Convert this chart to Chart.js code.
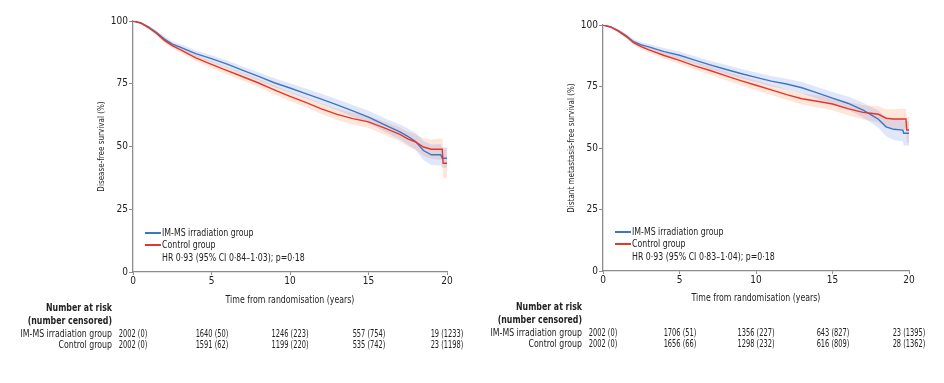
<!DOCTYPE html>
<html>
<head>
<meta charset="utf-8">
<script src="https://cdn.jsdelivr.net/npm/chart.js@4.4.1/dist/chart.umd.min.js"></script>
<style>
  html,body{margin:0;padding:0;background:#fff;}
  body{width:944px;height:383px;position:relative;overflow:hidden;
       font-family:"DejaVu Sans Condensed","Liberation Sans Narrow",sans-serif;color:#222;}
  canvas{position:absolute;top:0;}
  .t{position:absolute;white-space:nowrap;font-size:10px;line-height:12px;}
  .c{transform-origin:50% 50%;transform:translate(-50%,-50%) scaleX(0.87);}
  .r{transform-origin:100% 50%;transform:translate(-100%,-50%) scaleX(0.87);}
  .l{transform-origin:0 50%;transform:translate(0,-50%) scaleX(0.87);}
  .n{font-size:10px;transform-origin:50% 50%;transform:translate(-50%,-50%) scaleX(0.74);}
  .b{font-weight:bold;}
  .sw{position:absolute;height:2px;width:16px;}
</style>
</head>
<body>
<canvas id="dfs" width="470" height="290" style="left:0px"></canvas>
<canvas id="dmfs" width="474" height="290" style="left:470px"></canvas>
<div id="overlay"></div>
<script>
// ---------- Data ----------
const groupNames = ["IM-MS irradiation group", "Control group"];
const riskTimes = [0, 5, 10, 15, 20];

// Disease-free survival (%)
const dfsTime    = [0, 0.5, 1, 1.5, 2, 2.5, 3, 4, 5, 6, 7, 8, 9, 10, 11, 12, 13, 14, 15, 16, 17, 17.5, 18, 18.5, 19, 19.6, 19.7, 19.75, 20];
const dfsImms    = [100, 99.2, 97.6, 95.4, 92.8, 90.8, 89.6, 87.0, 85.0, 82.8, 80.3, 77.9, 75.4, 73.3, 71.1, 68.9, 66.6, 64.2, 61.7, 58.7, 55.8, 54.0, 52.0, 48.4, 46.7, 46.7, 45.3, 45.3, 45.3];
const dfsImmsLo  = [100, 98.8, 97.0, 94.6, 91.8, 89.7, 88.4, 85.7, 83.6, 81.3, 78.7, 76.2, 73.6, 71.4, 69.1, 66.8, 64.4, 61.9, 59.2, 56.0, 52.8, 50.8, 48.6, 44.6, 42.6, 42.4, 41.5, 41.5, 41.5];
const dfsImmsHi  = [100, 99.6, 98.2, 96.2, 93.8, 91.9, 90.8, 88.3, 86.4, 84.3, 81.9, 79.6, 77.2, 75.2, 73.1, 71.0, 68.8, 66.5, 64.2, 61.4, 58.8, 57.2, 55.4, 52.2, 50.8, 51.0, 49.5, 49.5, 49.5];
const dfsCtrl    = [100, 99.2, 97.3, 95.0, 92.3, 90.2, 88.6, 85.3, 82.7, 80.2, 77.8, 75.3, 72.6, 70.0, 67.6, 65.0, 62.8, 61.1, 59.8, 57.4, 54.8, 53.0, 51.8, 49.8, 48.9, 48.9, 48.9, 43.3, 43.3];
const dfsCtrlLo  = [100, 98.8, 96.7, 94.2, 91.3, 89.1, 87.4, 84.0, 81.3, 78.7, 76.2, 73.6, 70.8, 68.1, 65.6, 62.9, 60.6, 58.8, 57.4, 54.8, 52.0, 50.1, 48.7, 46.3, 45.0, 44.6, 44.6, 37.5, 37.5];
const dfsCtrlHi  = [100, 99.6, 97.9, 95.8, 93.3, 91.3, 89.8, 86.6, 84.1, 81.7, 79.4, 77.0, 74.4, 71.9, 69.6, 67.1, 65.0, 63.4, 62.2, 60.0, 57.6, 55.9, 54.9, 53.3, 52.8, 53.2, 53.2, 49.5, 49.5];
const dfsRiskImms = ["2002 (0)", "1640 (50)", "1246 (223)", "557 (754)", "19 (1233)"];
const dfsRiskCtrl = ["2002 (0)", "1591 (62)", "1199 (220)", "535 (742)", "23 (1198)"];

// Distant metastasis-free survival (%)
const dmfsTime   = [0, 0.5, 1, 1.5, 2, 2.5, 3, 4, 5, 6, 7, 8, 9, 10, 11, 12, 13, 14, 15, 16, 17, 17.5, 18, 18.5, 19, 19.6, 19.65, 19.8, 19.85, 20];
const dmfsImms   = [100, 99.2, 97.7, 95.7, 93.2, 91.9, 91.1, 89.2, 87.7, 85.7, 83.8, 82.0, 80.3, 78.7, 77.2, 76.0, 74.5, 72.4, 70.3, 68.2, 65.4, 63.6, 61.7, 58.6, 57.6, 57.3, 56.0, 56.0, 56.0, 56.0];
const dmfsImmsLo = [100, 98.8, 97.1, 94.9, 92.2, 90.8, 89.9, 87.8, 86.2, 84.1, 82.1, 80.2, 78.4, 76.7, 75.1, 73.8, 72.2, 70.0, 67.8, 65.5, 62.4, 60.4, 58.2, 54.8, 53.3, 52.6, 51.0, 51.0, 51.0, 51.0];
const dmfsImmsHi = [100, 99.6, 98.3, 96.5, 94.2, 93.0, 92.3, 90.6, 89.2, 87.3, 85.5, 83.8, 82.2, 80.7, 79.3, 78.2, 76.8, 74.8, 72.8, 70.9, 68.4, 66.8, 65.2, 62.4, 61.9, 62.0, 61.0, 61.0, 61.0, 61.0];
const dmfsCtrl   = [100, 99.2, 97.5, 95.4, 92.8, 91.2, 89.9, 87.6, 85.6, 83.4, 81.5, 79.4, 77.4, 75.5, 73.6, 71.7, 70.0, 69.0, 67.9, 66.0, 64.5, 64.1, 63.7, 62.1, 61.8, 61.8, 61.8, 61.8, 57.3, 57.3];
const dmfsCtrlLo = [100, 98.8, 96.9, 94.6, 91.8, 90.1, 88.7, 86.3, 84.1, 81.8, 79.8, 77.6, 75.5, 73.5, 71.5, 69.5, 67.7, 66.6, 65.3, 63.3, 61.6, 61.0, 60.4, 58.4, 57.8, 57.6, 57.6, 57.6, 52.0, 52.0];
const dmfsCtrlHi = [100, 99.6, 98.1, 96.2, 93.8, 92.3, 91.1, 88.9, 87.1, 85.0, 83.2, 81.2, 79.3, 77.5, 75.7, 73.9, 72.3, 71.4, 70.5, 68.7, 67.4, 67.2, 67.0, 65.8, 65.8, 66.0, 66.0, 66.0, 62.6, 62.6];
const dmfsRiskImms = ["2002 (0)", "1706 (51)", "1356 (227)", "643 (827)", "23 (1395)"];
const dmfsRiskCtrl = ["2002 (0)", "1656 (66)", "1298 (232)", "616 (809)", "28 (1362)"];

// ---------- Style ----------
const FONT = '"DejaVu Sans Condensed","Liberation Sans Narrow",sans-serif';
const BLUE = '#3c77c4';
const RED = '#e8352b';
const BLUE_BAND = 'rgba(120,145,235,0.22)';
const RED_BAND = 'rgba(250,165,120,0.28)';
const AXIS = '#8c8c8c';
Chart.defaults.font.family = FONT;
Chart.defaults.color = '#222';

function pts(xs, ys) { return xs.map((x, i) => ({x: x, y: ys[i]})); }

function buildChart(id, o) {
  const band = (d, c, f) => ({data: d, borderWidth: 0, borderColor: 'rgba(0,0,0,0)', pointRadius: 0,
                               backgroundColor: c, fill: f, tension: 0});
  return new Chart(document.getElementById(id), {
    type: 'line',
    data: {datasets: [
      {label: groupNames[1], data: pts(o.t, o.ctrl), borderColor: RED, borderWidth: 1.4, pointRadius: 0, fill: false, tension: 0},
      {label: groupNames[0], data: pts(o.t, o.imms), borderColor: BLUE, borderWidth: 1.4, pointRadius: 0, fill: false, tension: 0},
      band(pts(o.t, o.immsHi), BLUE_BAND, '+1'),
      band(pts(o.t, o.immsLo), 'rgba(0,0,0,0)', false),
      band(pts(o.t, o.ctrlHi), RED_BAND, '+1'),
      band(pts(o.t, o.ctrlLo), 'rgba(0,0,0,0)', false)
    ]},
    options: {
      responsive: false, animation: false, devicePixelRatio: 1,
      events: [],
      layout: {padding: {left: 93, top: o.top, right: o.right, bottom: 0}},
      plugins: {legend: {display: false}, tooltip: {enabled: false}},
      scales: {
        x: {type: 'linear', min: 0, max: 20,
            afterFit: s => { s.height = o.xh; },
            ticks: {stepSize: 5, padding: 0, font: {size: 10}, color: '#222', maxRotation: 0},
            grid: {drawOnChartArea: false, drawTicks: true, tickLength: 3, color: AXIS},
            border: {color: AXIS, width: 1.3}},
        y: {type: 'linear', min: 0, max: 100,
            afterFit: s => { s.width = 40; },
            ticks: {stepSize: 25, padding: 1, font: {size: 10}, color: '#222'},
            grid: {drawOnChartArea: false, drawTicks: true, tickLength: 4, color: AXIS},
            border: {color: AXIS, width: 1.3},
            title: {display: true, text: o.ytitle, font: {size: 8}, color: '#222', padding: {top: 4, bottom: 0}}}
      }
    }
  });
}

const chartDfs = buildChart('dfs', {
  t: dfsTime, imms: dfsImms, immsLo: dfsImmsLo, immsHi: dfsImmsHi,
  ctrl: dfsCtrl, ctrlLo: dfsCtrlLo, ctrlHi: dfsCtrlHi,
  top: 21, right: 23, xh: 18, ytitle: 'Disease-free survival (%)'
});
const chartDmfs = buildChart('dmfs', {
  t: dmfsTime, imms: dmfsImms, immsLo: dmfsImmsLo, immsHi: dmfsImmsHi,
  ctrl: dmfsCtrl, ctrlLo: dmfsCtrlLo, ctrlHi: dmfsCtrlHi,
  top: 25, right: 35, xh: 19, ytitle: 'Distant metastasis-free survival (%)'
});

// ---------- Overlay text (legend, axis title, numbers at risk) ----------
const ov = document.getElementById('overlay');
function txt(s, x, y, cls) {
  const d = document.createElement('div');
  d.className = 't ' + cls;
  d.style.left = x + 'px'; d.style.top = y + 'px';
  d.textContent = s;
  ov.appendChild(d);
}
function swatch(x, y, color) {
  const d = document.createElement('div');
  d.className = 'sw';
  d.style.left = Math.round(x) + 'px'; d.style.top = Math.round(y - 1) + 'px'; d.style.background = color;
  ov.appendChild(d);
}
function decorate(chart, offX, o) {
  const xs = chart.scales.x, ca = chart.chartArea;
  const lx = offX + ca.left + 12;
  swatch(lx, o.legY, BLUE);
  swatch(lx, o.legY + 12, RED);
  txt(groupNames[0], lx + 17, o.legY, 'l');
  txt(groupNames[1], lx + 17, o.legY + 12, 'l');
  txt(o.hr, lx + 17, o.legY + 24.5, 'l');
  txt('Time from randomisation (years)', offX + (ca.left + ca.right) / 2, o.titleY, 'c');
  const rx = offX + ca.left - 21;
  txt('Number at risk', rx, o.riskY, 'r b');
  txt('(number censored)', rx, o.riskY + 13, 'r b');
  txt(groupNames[0], rx, o.riskY + 25.5, 'r');
  txt(groupNames[1], rx, o.riskY + 36.5, 'r');
  riskTimes.forEach((t, i) => {
    const px = offX + xs.getPixelForValue(t);
    txt(o.riskImms[i], px, o.riskY + 25.5, 'n');
    txt(o.riskCtrl[i], px, o.riskY + 36.5, 'n');
  });
}
decorate(chartDfs, 0, {legY: 233, hr: 'HR 0·93 (95% CI 0·84–1·03); p=0·18', titleY: 300, riskY: 308,
                       riskImms: dfsRiskImms, riskCtrl: dfsRiskCtrl});
decorate(chartDmfs, 470, {legY: 232, hr: 'HR 0·93 (95% CI 0·83–1·04); p=0·18', titleY: 298, riskY: 307,
                          riskImms: dmfsRiskImms, riskCtrl: dmfsRiskCtrl});
</script>
</body>
</html>
